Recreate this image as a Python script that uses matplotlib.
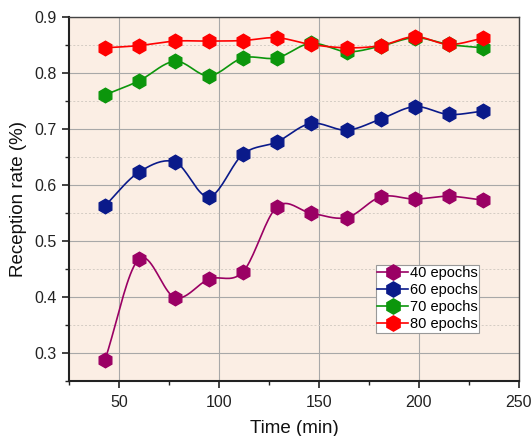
import numpy as np
import matplotlib
matplotlib.use("Agg")
import matplotlib.pyplot as plt
from matplotlib.ticker import MultipleLocator

plt.rcParams['font.family'] = ['Liberation Sans', 'DejaVu Sans']

time_min = [43, 60, 78, 95, 112, 129, 146, 164, 181, 198, 215, 232]
ep40 = [0.288, 0.468, 0.399, 0.432, 0.445, 0.561, 0.550, 0.542, 0.579, 0.575, 0.580, 0.573]
ep60 = [0.563, 0.623, 0.641, 0.579, 0.655, 0.677, 0.710, 0.698, 0.718, 0.740, 0.726, 0.732]
ep70 = [0.761, 0.786, 0.821, 0.795, 0.827, 0.827, 0.853, 0.838, 0.848, 0.863, 0.851, 0.845]
ep80 = [0.845, 0.849, 0.857, 0.857, 0.858, 0.863, 0.851, 0.845, 0.849, 0.865, 0.851, 0.862]
labels = ['40 epochs', '60 epochs', '70 epochs', '80 epochs']
colors = ['#9A0064', '#0A1A8A', '#0C960C', '#FF0000']


def smooth(x, y, n=20):
    # Catmull-Rom curve through the data points (rendering of the spline connector)
    x = np.asarray(x, float)
    y = np.asarray(y, float)
    px = np.concatenate([[2 * x[0] - x[1]], x, [2 * x[-1] - x[-2]]])
    py = np.concatenate([[2 * y[0] - y[1]], y, [2 * y[-1] - y[-2]]])
    xs, ys = [], []
    t = np.linspace(0, 1, n, endpoint=False)
    for i in range(1, len(px) - 2):
        for arr, out in ((px, xs), (py, ys)):
            p0, p1, p2, p3 = arr[i - 1], arr[i], arr[i + 1], arr[i + 2]
            out.extend(0.5 * ((2 * p1) + (-p0 + p2) * t +
                              (2 * p0 - 5 * p1 + 4 * p2 - p3) * t ** 2 +
                              (-p0 + 3 * p1 - 3 * p2 + p3) * t ** 3))
    xs.append(x[-1])
    ys.append(y[-1])
    return np.array(xs), np.array(ys)


fig = plt.figure(figsize=(5.31, 4.36), dpi=100)
ax = fig.add_axes([0.130, 0.126, 0.847, 0.835])
ax.set_facecolor('#FBEEE4')

for data, lab, c in zip([ep40, ep60, ep70, ep80], labels, colors):
    sx, sy = smooth(time_min, data)
    ax.plot(sx, sy, color=c, lw=1.2, zorder=3)
    ax.plot(time_min, data, linestyle='none', marker='h', ms=10.5,
            color=c, mec=c, zorder=4)
    ax.plot([], [], color=c, lw=1.2, marker='h', ms=11, label=lab)

ax.set_xlim(25, 250)
ax.set_ylim(0.25, 0.9)
ax.xaxis.set_major_locator(MultipleLocator(50))
ax.xaxis.set_minor_locator(MultipleLocator(25))
ax.yaxis.set_major_locator(MultipleLocator(0.1))
ax.yaxis.set_minor_locator(MultipleLocator(0.05))
ax.set_xticks([50, 100, 150, 200, 250])
ax.set_xticklabels(['50', '100', '150', '200', '250'])
ax.set_yticks([0.3, 0.4, 0.5, 0.6, 0.7, 0.8, 0.9])
ax.set_yticklabels(['0.3', '0.4', '0.5', '0.6', '0.7', '0.8', '0.9'])

ax.grid(which='major', color='#A8A8A8', lw=0.8, zorder=1)
ax.grid(which='minor', axis='y', color='#D4CCC4', lw=0.7, ls=(0, (2, 2)), zorder=1)
ax.set_axisbelow(True)

ax.tick_params(which='major', direction='out', length=5, width=1.2, labelsize=11.5,
               color='#222222', labelcolor='#222222')
ax.tick_params(which='minor', direction='out', length=3, width=1.0, color='#222222')
ax.tick_params(axis='x', top=False, pad=5)
ax.tick_params(axis='y', right=False, pad=4)
for side in ['left', 'bottom']:
    ax.spines[side].set_linewidth(1.5)
    ax.spines[side].set_color('#222222')
for side in ['top', 'right']:
    ax.spines[side].set_linewidth(1.0)
    ax.spines[side].set_color('#444444')

ax.set_xlabel('Time (min)', fontsize=13.5, labelpad=7, color='#111111')
ax.set_ylabel('Reception rate (%)', fontsize=13.5, labelpad=5, color='#111111')

leg = ax.legend(loc='upper left', bbox_to_anchor=(0.682, 0.319), frameon=True,
                fancybox=False, fontsize=10.5, handlelength=2.1, handletextpad=0.15,
                borderpad=0.1, labelspacing=0.2, borderaxespad=0)
leg.get_frame().set_edgecolor('#999999')
leg.get_frame().set_linewidth(0.8)
leg.get_frame().set_facecolor('white')
leg.get_frame().set_alpha(1)

fig.savefig('out.png', dpi=100)
